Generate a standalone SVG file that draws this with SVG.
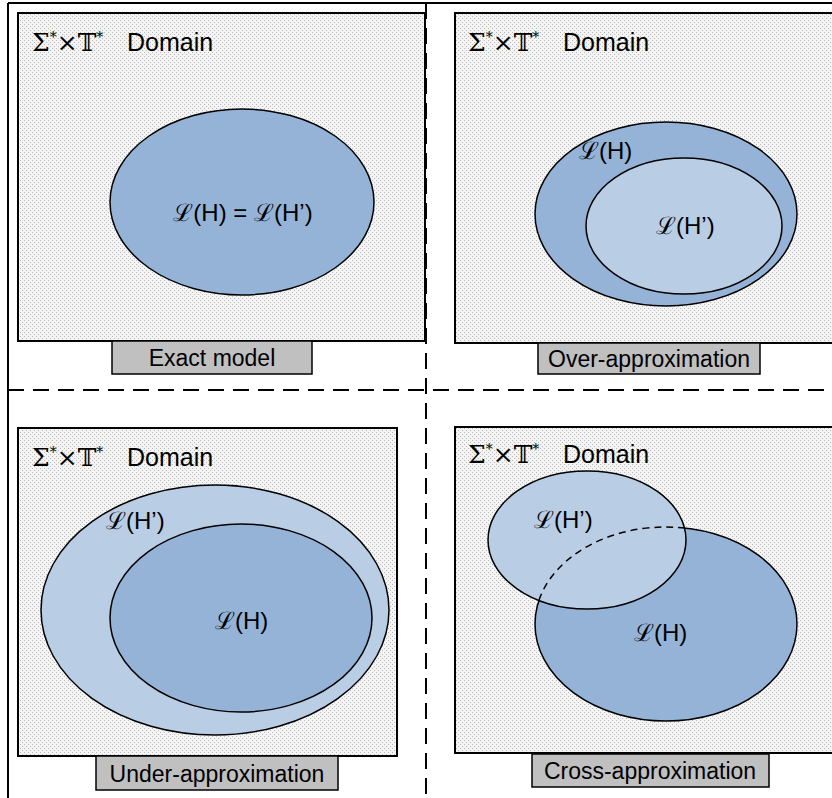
<svg xmlns="http://www.w3.org/2000/svg" width="832" height="798" viewBox="0 0 832 798">
  <defs>
    <pattern id="dots" width="4" height="4" patternUnits="userSpaceOnUse">
      <rect width="4" height="4" fill="#f4f4f4"/>
      <rect x="0" y="0" width="1" height="1" fill="#b8b8b8"/>
      <rect x="2" y="2" width="1" height="1" fill="#b8b8b8"/>
    </pattern>
    <clipPath id="clipHp">
      <ellipse cx="587" cy="540" rx="99" ry="69"/>
    </clipPath>
  </defs>
  <style>
    .panel { fill: url(#dots); stroke: #000; stroke-width: 2; }
    .tag { fill: #c0c0c0; stroke: #000; stroke-width: 1.5; }
    .dark { fill: #95b3d7; stroke: #000; stroke-width: 1.5; }
    .light { fill: #b9cde5; stroke: #000; stroke-width: 1.5; }
    .sep { stroke: #000; stroke-width: 2; stroke-dasharray: 16 9; fill: none; }
    .txt { font-family: "Liberation Sans", "DejaVu Sans", sans-serif; fill: #000; }
    .math { font-family: "DejaVu Serif", "Liberation Serif", serif; }
    .lbl { font-size: 23px; text-anchor: middle; }
    .dom { font-size: 25px; }
    .lang { font-size: 24px; }
  </style>

  <!-- outer frame and quadrant separators -->
  <g id="frame">
    <line x1="8" y1="3" x2="832" y2="3" stroke="#000" stroke-width="2"/>
    <line x1="8" y1="3" x2="8" y2="798" stroke="#000" stroke-width="2"/>
  </g>
  <g id="connectors">
    <line class="sep" x1="8" y1="390" x2="832" y2="390"/>
    <line class="sep" x1="426" y1="3" x2="426" y2="798"/>
  </g>

  <!-- top-left: exact model -->
  <g id="exact">
    <rect class="panel" x="18" y="13" width="407" height="328"/>
    <text class="txt dom" x="32" y="51"><tspan class="math">Σ</tspan><tspan class="math" font-size="14" dy="-9">*</tspan><tspan class="math" dy="9">×𝕋</tspan><tspan class="math" font-size="14" dy="-9">*</tspan><tspan dy="9" x="127">Domain</tspan></text>
    <ellipse class="dark" cx="242" cy="202" rx="132" ry="93"/>
    <text class="txt lang" x="243" y="221" text-anchor="middle"><tspan class="math">ℒ</tspan>(H) = <tspan class="math">ℒ</tspan>(H’)</text>
    <rect class="tag" x="112" y="341" width="200" height="33"/>
    <text class="txt lbl" x="212" y="366">Exact model</text>
  </g>

  <!-- top-right: over-approximation -->
  <g id="over">
    <rect class="panel" x="455" y="13" width="390" height="330"/>
    <text class="txt dom" x="468" y="51"><tspan class="math">Σ</tspan><tspan class="math" font-size="14" dy="-9">*</tspan><tspan class="math" dy="9">×𝕋</tspan><tspan class="math" font-size="14" dy="-9">*</tspan><tspan dy="9" x="563">Domain</tspan></text>
    <ellipse class="dark" cx="666" cy="214" rx="131" ry="92"/>
    <ellipse class="light" cx="684" cy="226" rx="98" ry="68"/>
    <text class="txt lang" x="579" y="159"><tspan class="math">ℒ</tspan>(H)</text>
    <text class="txt lang" x="656" y="234"><tspan class="math">ℒ</tspan>(H’)</text>
    <rect class="tag" x="538" y="343" width="222" height="31"/>
    <text class="txt lbl" x="649" y="367">Over-approximation</text>
  </g>

  <!-- bottom-left: under-approximation -->
  <g id="under">
    <rect class="panel" x="18" y="428" width="379" height="328"/>
    <text class="txt dom" x="32" y="466"><tspan class="math">Σ</tspan><tspan class="math" font-size="14" dy="-9">*</tspan><tspan class="math" dy="9">×𝕋</tspan><tspan class="math" font-size="14" dy="-9">*</tspan><tspan dy="9" x="127">Domain</tspan></text>
    <ellipse class="light" cx="215" cy="610" rx="174" ry="125"/>
    <ellipse class="dark" cx="241" cy="618" rx="131" ry="94"/>
    <text class="txt lang" x="106" y="529"><tspan class="math">ℒ</tspan>(H’)</text>
    <text class="txt lang" x="215" y="629"><tspan class="math">ℒ</tspan>(H)</text>
    <rect class="tag" x="96" y="756" width="242" height="34"/>
    <text class="txt lbl" x="217" y="782">Under-approximation</text>
  </g>

  <!-- bottom-right: cross-approximation -->
  <g id="cross">
    <rect class="panel" x="455" y="427" width="390" height="326"/>
    <text class="txt dom" x="468" y="463"><tspan class="math">Σ</tspan><tspan class="math" font-size="14" dy="-9">*</tspan><tspan class="math" dy="9">×𝕋</tspan><tspan class="math" font-size="14" dy="-9">*</tspan><tspan dy="9" x="563">Domain</tspan></text>
    <ellipse class="dark" cx="666" cy="624" rx="131" ry="97"/>
    <ellipse class="light" cx="587" cy="540" rx="99" ry="69"/>
    <ellipse cx="666" cy="624" rx="131" ry="97" fill="none" stroke="#000" stroke-width="1.5" stroke-dasharray="7 5" clip-path="url(#clipHp)"/>
    <text class="txt lang" x="534" y="528"><tspan class="math">ℒ</tspan>(H’)</text>
    <text class="txt lang" x="634" y="641"><tspan class="math">ℒ</tspan>(H)</text>
    <rect class="tag" x="532" y="754" width="237" height="33"/>
    <text class="txt lbl" x="650" y="779">Cross-approximation</text>
  </g>
</svg>
